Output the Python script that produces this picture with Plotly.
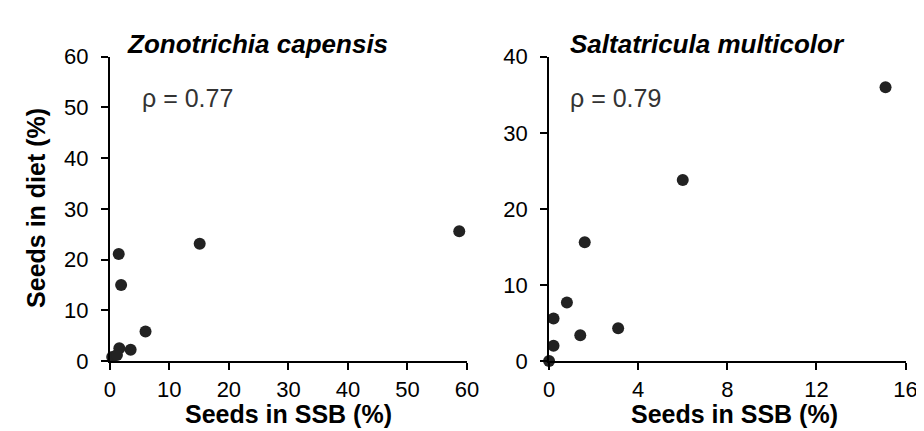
import plotly.graph_objects as go

# Zonotrichia capensis
zc_ssb = [58.7, 15.1, 1.5, 1.9, 6.0, 3.5, 1.6, 0.4, 1.2]
zc_diet = [25.6, 23.1, 21.1, 15.0, 5.8, 2.2, 2.5, 0.8, 1.2]
# Saltatricula multicolor
sm_ssb = [15.1, 6.0, 1.6, 0.8, 0.2, 1.4, 3.1, 0.2, 0.0]
sm_diet = [36.0, 23.8, 15.6, 7.7, 5.6, 3.4, 4.3, 2.0, 0.0]

titles = ["Zonotrichia capensis", "Saltatricula multicolor"]
rho_labels = ["ρ = 0.77", "ρ = 0.79"]
x_title = "Seeds in SSB (%)"
y_title = "Seeds in diet (%)"
left_xticks = [0, 10, 20, 30, 40, 50, 60]
left_yticks = [0, 10, 20, 30, 40, 50, 60]
right_xticks = [0, 4, 8, 12, 16]
right_yticks = [0, 10, 20, 30, 40]

W, H = 924, 431
FONT = "Liberation Sans, Arial, sans-serif"
MC = "#222222"

def px(x):
    return x / W

def py(y):
    return 1 - y / H

fig = go.Figure()
fig.add_trace(go.Scatter(x=zc_ssb, y=zc_diet, mode="markers", xaxis="x", yaxis="y",
                         marker=dict(size=12, color=MC, line=dict(width=0)), cliponaxis=False))
fig.add_trace(go.Scatter(x=sm_ssb, y=sm_diet, mode="markers", xaxis="x2", yaxis="y2",
                         marker=dict(size=12, color=MC, line=dict(width=0)), cliponaxis=False))

ax_common = dict(showline=True, linecolor="black", linewidth=2, ticks="outside", ticklen=7,
                 tickwidth=2, tickcolor="black", showgrid=False, zeroline=False,
                 tickfont=dict(family=FONT, size=22, color="black"))
xa = dict(ax_common, ticklabelstandoff=1)
ya = dict(ax_common, ticklabelstandoff=8)

ydom = [py(362), py(39)]
fig.update_layout(
    width=W, height=H, margin=dict(l=0, r=0, t=0, b=0),
    plot_bgcolor="white", paper_bgcolor="white", showlegend=False,
    xaxis=dict(domain=[px(97.7), px(462)], range=[0, 60], tickvals=left_xticks,
               anchor="y", **xa),
    yaxis=dict(domain=ydom, range=[0, 60], tickvals=left_yticks, anchor="x", **ya),
    xaxis2=dict(domain=[px(545.7), px(909.3)], range=[0, 16], tickvals=right_xticks,
                anchor="y2", **xa),
    yaxis2=dict(domain=ydom, range=[0, 40], tickvals=right_yticks, anchor="x2", **ya),
)

ann = []
for xpos, t in zip([113, 565], titles):
    ann.append(dict(x=px(xpos), y=py(25), xref="paper", yref="paper", xanchor="left",
                    yanchor="middle", showarrow=False, text="<b><i>" + t + "</i></b>",
                    font=dict(family=FONT, size=26, color="black")))
for xpos, t in zip([128, 565], rho_labels):
    ann.append(dict(x=px(xpos), y=py(83), xref="paper", yref="paper", xanchor="left",
                    yanchor="middle", showarrow=False, text=t,
                    font=dict(family=FONT, size=25, color="#333333")))
for xc in [280, 735]:
    ann.append(dict(x=px(xc), y=py(418), xref="paper", yref="paper", xanchor="center",
                    yanchor="middle", showarrow=False, text="<b>" + x_title + "</b>",
                    font=dict(family=FONT, size=25, color="black")))
ann.append(dict(x=px(23), y=py(200), xref="paper", yref="paper", xanchor="center",
                yanchor="middle", showarrow=False, text="<b>" + y_title + "</b>", textangle=-90,
                font=dict(family=FONT, size=25, color="black")))
fig.update_layout(annotations=ann)

fig.write_html("out.html")
